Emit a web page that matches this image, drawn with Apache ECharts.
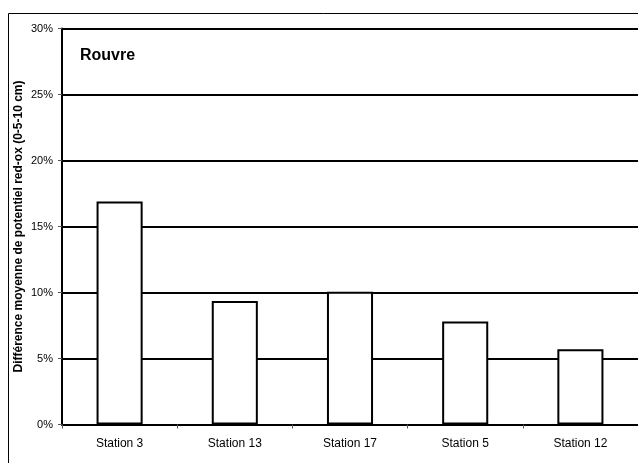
<!DOCTYPE html>
<html>
<head>
<meta charset="utf-8">
<script src="https://cdn.jsdelivr.net/npm/echarts@6/dist/echarts.min.js"></script>
<style>
  html, body { margin: 0; padding: 0; background: #fff; }
  #main { width: 638px; height: 463px; }
</style>
</head>
<body>
<div id="main"></div>
<script>
// stations et différences moyennes (%)
var stations = ['Station 3', 'Station 13', 'Station 17', 'Station 5', 'Station 12'];
var diffMoy = [16.9, 9.35, 10.05, 7.8, 5.7];
var yTicks = [0, 5, 10, 15, 20, 25, 30];

var myChart = echarts.init(document.getElementById('main'));

var option = {
    backgroundColor: '#fff',
    textStyle: { fontFamily: 'Liberation Sans, Arial, sans-serif' },
    animation: false,
    title: {
        text: 'Rouvre',
        left: 75,
        top: 43,
        textStyle: { fontSize: 16, fontWeight: 'bold', color: '#000' }
    },
    graphic: [{
        type: 'rect',
        shape: { x: 8.5, y: 13.5, width: 640, height: 460 },
        style: { fill: null, stroke: '#000', lineWidth: 1 },
        z: 100
    }],
    grid: { left: 62, top: 28.5, right: -5, bottom: 38.5 },
    xAxis: {
        type: 'category',
        data: stations,
        axisLine: { lineStyle: { color: '#000', width: 2 } },
        axisTick: { show: true, length: 4, lineStyle: { color: '#555' } },
        axisLabel: { color: '#000', fontSize: 12, margin: 13 }
    },
    yAxis: {
        type: 'value',
        min: yTicks[0],
        max: yTicks[yTicks.length - 1],
        interval: 5,
        name: 'Différence moyenne de potentiel red-ox (0-5-10 cm)',
        nameLocation: 'middle',
        nameRotate: 90,
        nameGap: 37,
        nameMoveOverlap: false,
        nameTextStyle: { fontSize: 12, fontWeight: 'bold', color: '#000' },
        axisLine: { show: true, lineStyle: { color: '#000', width: 2 } },
        axisTick: { show: true, length: 4, lineStyle: { color: '#555' } },
        axisLabel: { color: '#000', fontSize: 11, margin: 9, formatter: '{value}%' },
        splitLine: { show: true, lineStyle: { color: '#000', width: 2 } }
    },
    series: [{
        type: 'bar',
        data: diffMoy,
        barWidth: '40%',
        itemStyle: { color: '#fff', borderColor: '#000', borderWidth: 2 }
    }]
};

myChart.setOption(option);
</script>
</body>
</html>
